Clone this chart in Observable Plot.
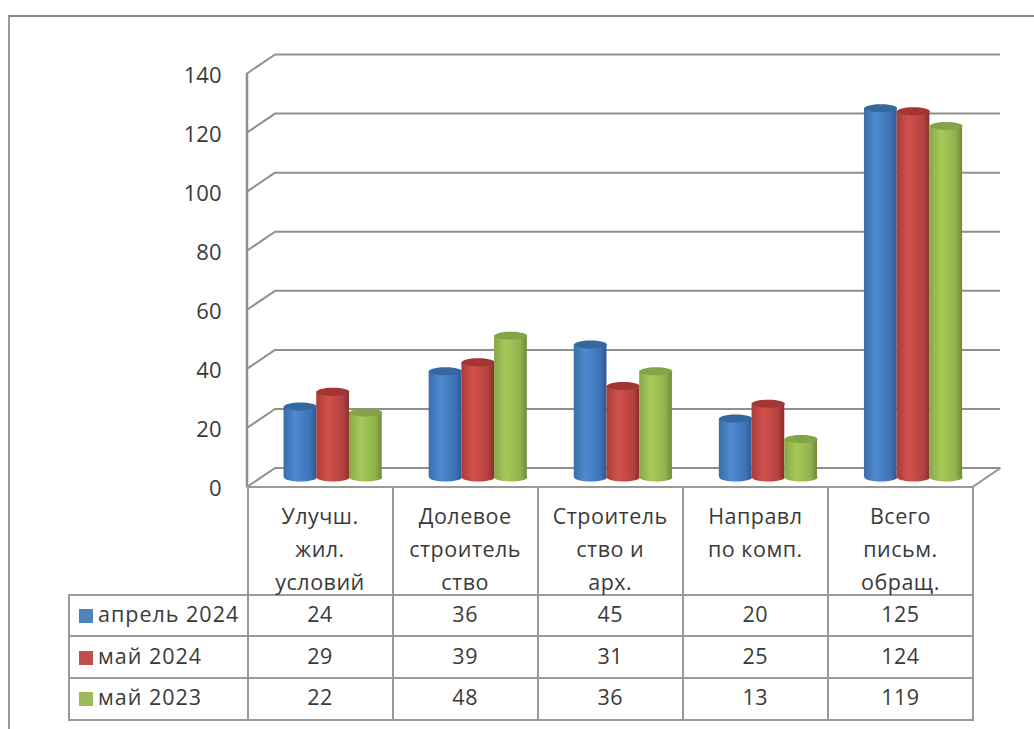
<!DOCTYPE html>
<html lang="ru">
<head>
<meta charset="utf-8">
<script src="https://cdn.jsdelivr.net/npm/d3@7"></script>
<script src="https://cdn.jsdelivr.net/npm/@observablehq/plot@0.6"></script>
<style>
  html, body { margin: 0; padding: 0; background: #fff; overflow: hidden; }
  #page { position: relative; width: 1034px; height: 729px; overflow: hidden;
          font-family: "Open Sans", sans-serif; color: #3a3a3a; }
  #frame { position: absolute; left: 8px; top: 15px; width: 1026px; height: 714px; box-sizing: border-box;
           border-top: 2.5px solid #858585; border-left: 2.5px solid #999; }
  #chart { position: absolute; left: 0; top: 0; }
  table { position: absolute; left: 68px; top: 485.5px; border-collapse: collapse; table-layout: fixed;
          width: 904px; font-size: 21.5px; letter-spacing: .5px; }
  td, th { border: 2px solid #999; font-weight: 400; text-align: center; padding: 0; box-sizing: border-box; }
  th { height: 108px; vertical-align: top; }
  th div { height: 90px; line-height: 33px; white-space: pre-line; padding-top: 11px; overflow: visible; }
  th.blank { border-top: none; border-left: none; }
  td { height: 41.7px; line-height: 24px; padding-bottom: 3px; }
  td.name { text-align: left; padding-left: 9px; white-space: nowrap; letter-spacing: 1px; }
  .sw { display: inline-block; width: 14px; height: 14px; margin-right: 5px; vertical-align: -1px; }
</style>
</head>
<body>
<div id="page">
  <div id="frame"></div>
  <div id="chart"></div>
</div>
<script>
const categories = ["Улучш.\nжил.\nусловий", "Долевое\nстроитель\nство", "Строитель\nство и\nарх.", "Направл\nпо комп.", "Всего\nписьм.\nобращ."];
const seriesNames = ["апрель 2024", "май 2024", "май 2023"];
const april2024 = [24, 36, 45, 20, 125];
const may2024 = [29, 39, 31, 25, 124];
const may2023 = [22, 48, 36, 13, 119];
const yTicks = [0, 20, 40, 60, 80, 100, 120, 140];
const swatches = ["#4f81bd", "#c0504d", "#9bbb59"];
const gradients = [
  ["#3a6da8", "#4f8ad0", "#3e74b8", "#2c5a93"],
  ["#a83c3a", "#d2504c", "#b64341", "#8a2f2d"],
  ["#86a849", "#a6ca58", "#90b24d", "#6e8a38"]
];
const caps = ["#34699f", "#a33533", "#84a547"];
const values = [april2024, may2024, may2023];

// 3D box depth, in scale units
const depthX = 0.193, depthY = 6.42;
const barW = 0.2255;
const axisColor = "#8f8f8f";

const ellipse = {
  draw(ctx, size) {
    const rx = Math.sqrt(size / Math.PI), ry = 4, k = 0.5523;
    ctx.moveTo(-rx, 0);
    ctx.bezierCurveTo(-rx, -k * ry, -k * rx, -ry, 0, -ry);
    ctx.bezierCurveTo(k * rx, -ry, rx, -k * ry, rx, 0);
    ctx.bezierCurveTo(rx, k * ry, k * rx, ry, 0, ry);
    ctx.bezierCurveTo(-k * rx, ry, -rx, k * ry, -rx, 0);
    ctx.closePath();
  }
};

function defs() {
  const d = d3.create("svg:defs");
  gradients.forEach((stops, i) => {
    const g = d.append("linearGradient").attr("id", "cyl" + i);
    [0, 0.35, 0.8, 1].forEach((o, j) =>
      g.append("stop").attr("offset", o).attr("stop-color", stops[j]));
  });
  return d.node();
}

const barMarks = values.flatMap((vals, s) => {
  const rows = vals.map((v, i) => ({ c: i + 0.5 + depthX / 2 + (s - 1) * barW - 0.003, v }));
  const common = { x: "c", dy: -9.5, r: 16.4, symbol: ellipse, strokeWidth: 0 };
  return [
    Plot.dot(rows, { ...common, y: () => 0, fill: `url(#cyl${s})` }),
    Plot.rect(rows, { x1: d => d.c - barW / 2, x2: d => d.c + barW / 2, y1: () => 0, y2: "v", dy: -9.5, fill: `url(#cyl${s})` }),
    Plot.dot(rows, { ...common, y: "v", fill: caps[s] })
  ];
});

const plot = Plot.plot({
  width: 1034,
  height: 530,
  marginLeft: 246.5,
  marginRight: 62,
  marginTop: 73,
  marginBottom: 43.5,
  style: { background: "transparent", fontFamily: '"Open Sans", sans-serif', color: "#3a3a3a" },
  x: { domain: [0, 5], axis: null },
  y: { domain: [0, 140], axis: null },
  marks: [
    defs,
    // back wall gridlines
    Plot.ruleY(yTicks, { y: d => d + depthY, x1: depthX, x2: 5 + depthX, stroke: axisColor, strokeWidth: 2 }),
    // side wall diagonals
    Plot.link(yTicks, { x1: 0, x2: depthX, y1: d => d, y2: d => d + depthY, stroke: axisColor, strokeWidth: 2 }),
    // floor right edge and front edge
    Plot.link([0], { x1: 5, x2: 5 + depthX, y1: 0, y2: depthY, stroke: axisColor, strokeWidth: 2 }),
    Plot.ruleY([0], { x1: 0, x2: 5, stroke: axisColor, strokeWidth: 2 }),
    Plot.ruleX([0], { y1: 0, y2: 140, stroke: axisColor, strokeWidth: 2.5 }),
    ...barMarks,
    Plot.axisY(yTicks, { anchor: "left", tickSize: 0, tickPadding: 25.5, fontSize: 22, dy: 2, fill: "#3a3a3a", label: null })
  ]
});
document.getElementById("chart").appendChild(plot);

// data table under the chart
const table = d3.select("#page").append("table");
const colgroup = table.append("colgroup");
colgroup.append("col").style("width", "178.5px");
categories.forEach(() => colgroup.append("col").style("width", "145.1px"));
const head = table.append("tr");
head.append("th").attr("class", "blank");
categories.forEach(c => head.append("th").append("div").text(c));
seriesNames.forEach((name, s) => {
  const tr = table.append("tr");
  const n = tr.append("td").attr("class", "name");
  n.append("span").attr("class", "sw").style("background", swatches[s]);
  n.append("span").text(name);
  values[s].forEach(v => tr.append("td").text(v));
});
</script>
</body>
</html>
